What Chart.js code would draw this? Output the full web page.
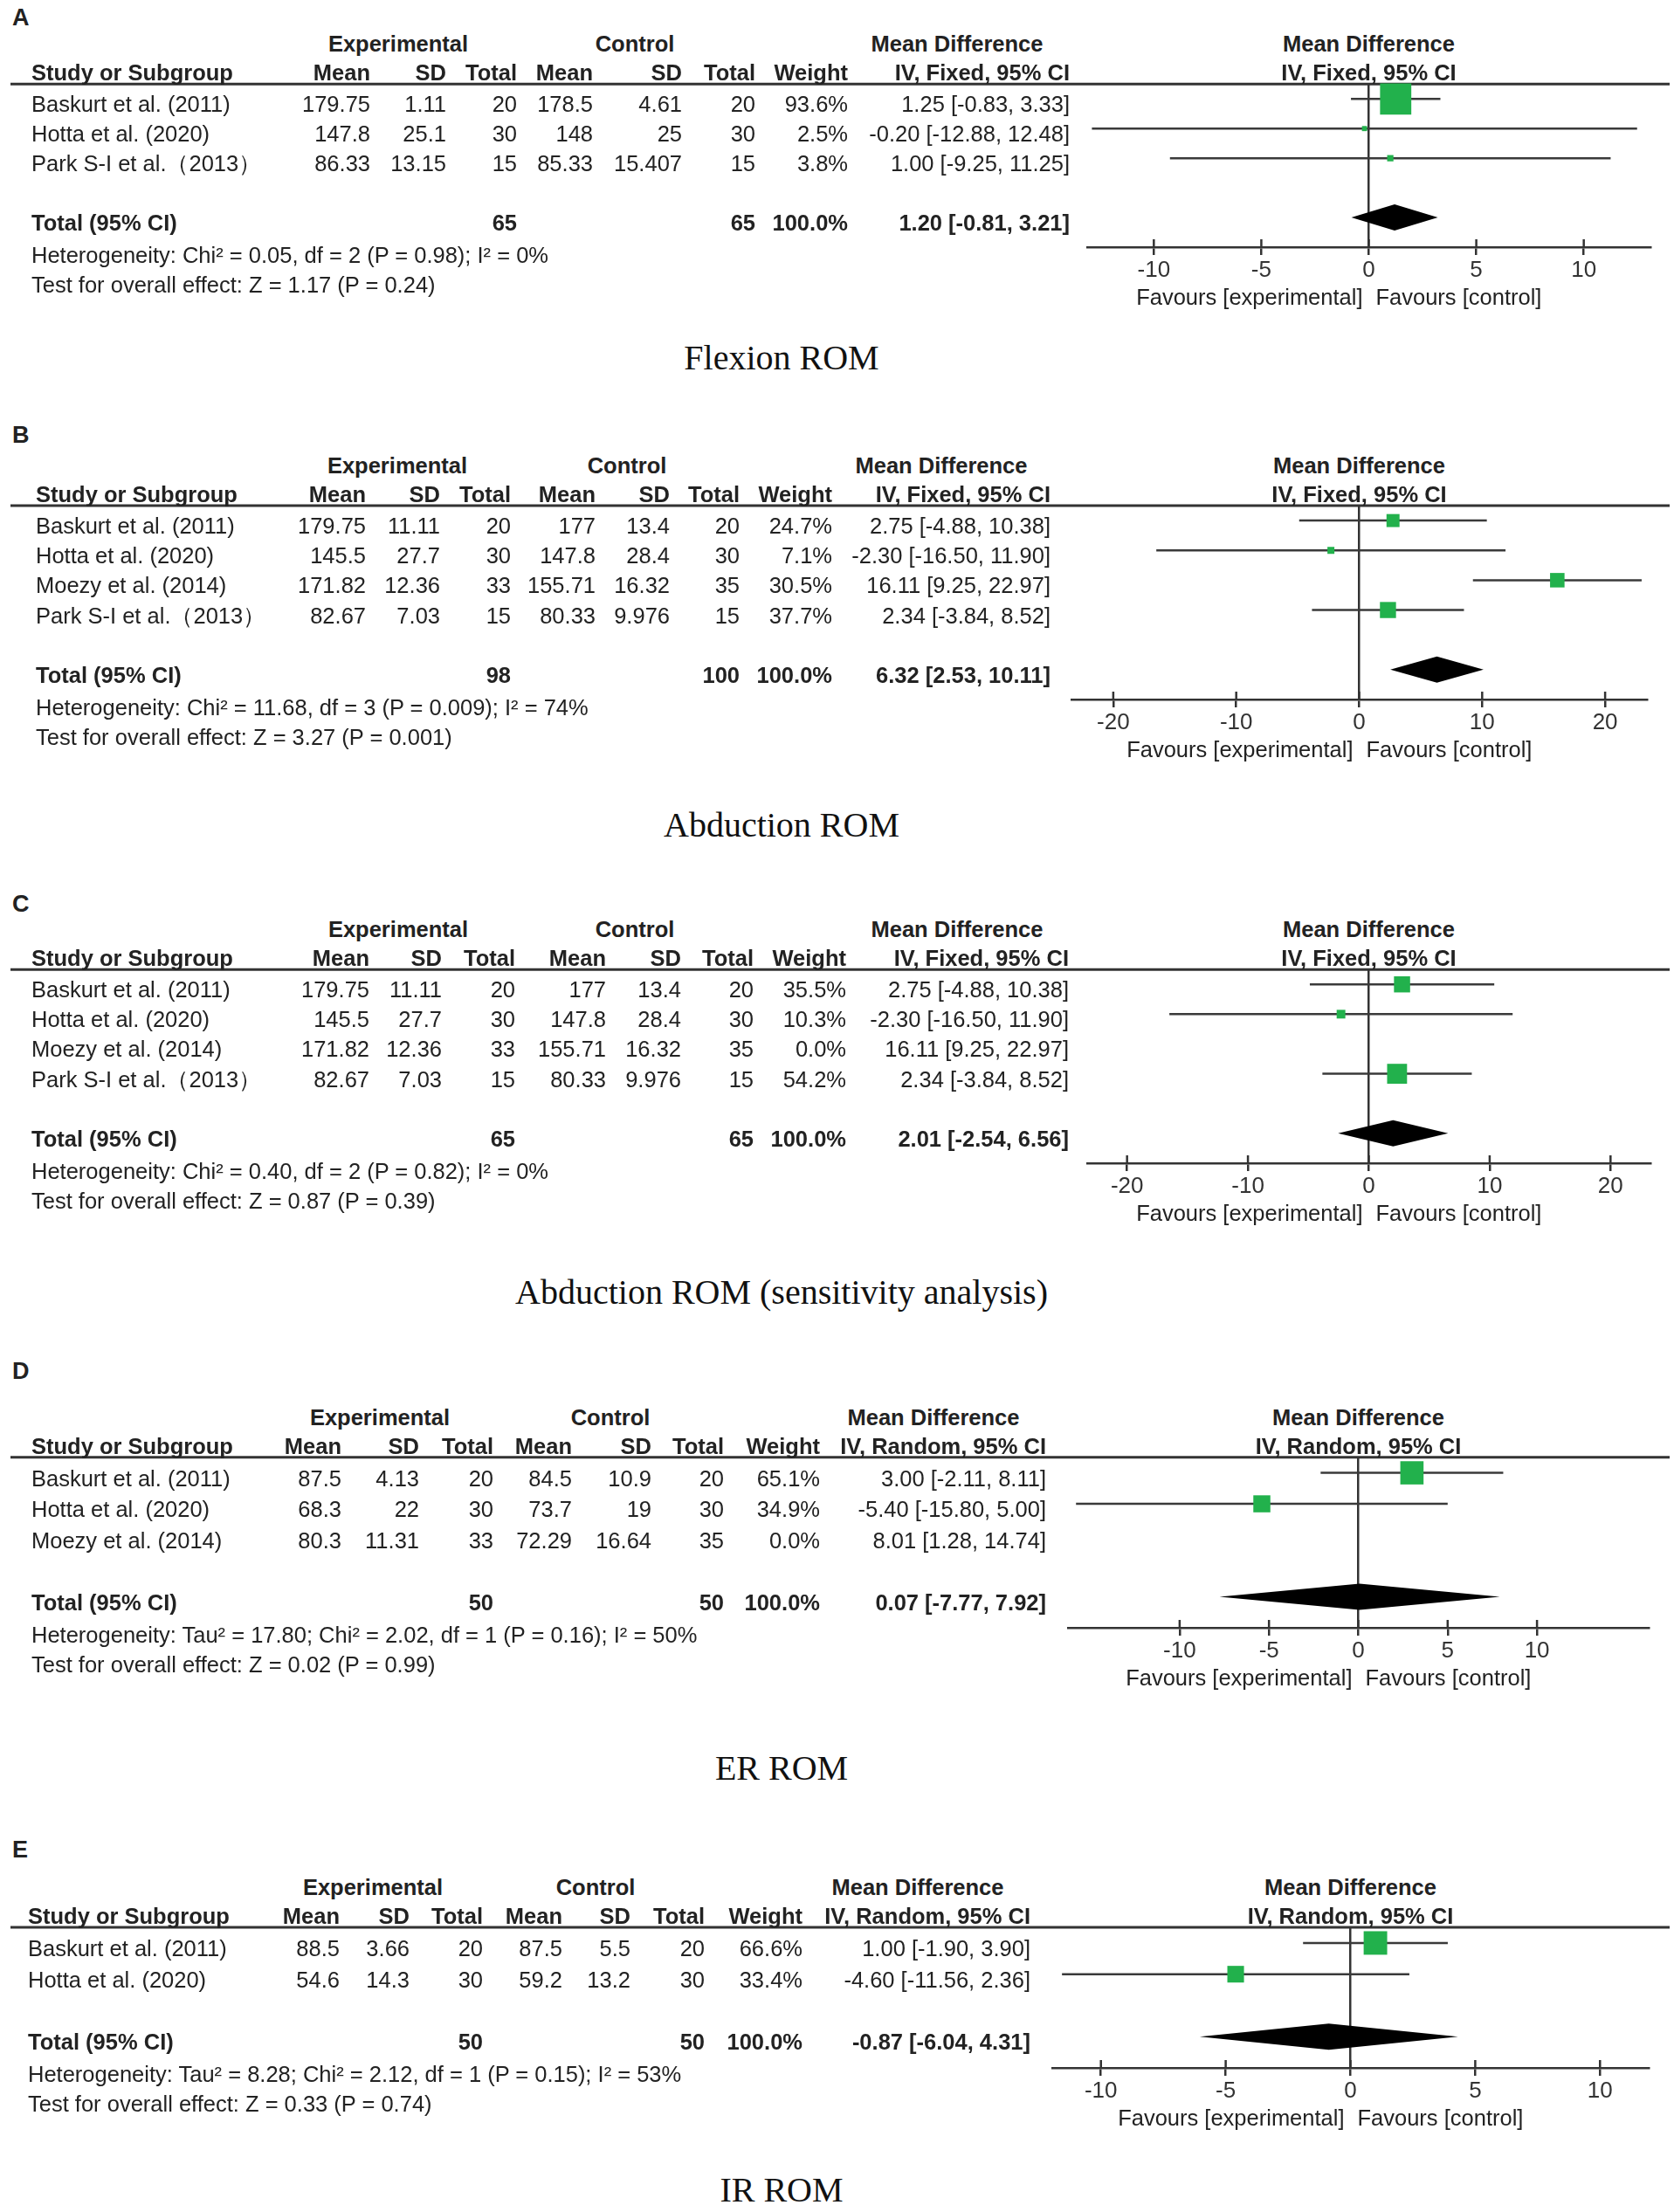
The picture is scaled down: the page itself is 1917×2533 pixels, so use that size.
<!DOCTYPE html>
<html>
<head>
<meta charset="utf-8">
<script src="https://cdn.jsdelivr.net/npm/chart.js@4.4.1/dist/chart.umd.min.js"></script>
<style>
body { margin: 0; background: #fff; }
#page { position: relative; width: 1917px; height: 2533px; overflow: hidden; font-family: "Liberation Sans", Arial, sans-serif; color: #222; }
.t { position: absolute; font-size: 25.5px; line-height: 30px; height: 30px; margin-top: -15px; white-space: nowrap; }
.b { font-weight: bold; }
.letter { position: absolute; left: 14px; font-size: 27px; font-weight: bold; line-height: 30px; margin-top: -15px; }
.caption { position: absolute; font-family: "Liberation Serif", "Times New Roman", serif; font-size: 40px; line-height: 46px; transform: translate(-50%, -50%); white-space: nowrap; color: #111; }
canvas { position: absolute; left: 0; }
</style>
</head>
<body>
<div id="page"></div>
<script>
// ---- A: Flexion ROM ----
const studiesA = ["Baskurt et al. (2011)", "Hotta et al. (2020)", "Park S-I et al.（2013）"];
const expMeanA = [179.75, 147.8, 86.33];
const expSdA = [1.11, 25.1, 13.15];
const expNA = [20, 30, 15];
const ctlMeanA = [178.5, 148, 85.33];
const ctlSdA = [4.61, 25, 15.407];
const ctlNA = [20, 30, 15];
const weightA = [93.6, 2.5, 3.8];
const mdA = [1.25, -0.20, 1.00];
const lowerA = [-0.83, -12.88, -9.25];
const upperA = [3.33, 12.48, 11.25];
const pooledA = [1.20, -0.81, 3.21];
const sumNA = [65, 65];
const ticksA = [-10, -5, 0, 5, 10];
const hetA = "Heterogeneity: Chi² = 0.05, df = 2 (P = 0.98); I² = 0%";
const effectA = "Test for overall effect: Z = 1.17 (P = 0.24)";

// ---- B: Abduction ROM ----
const studiesB = ["Baskurt et al. (2011)", "Hotta et al. (2020)", "Moezy et al. (2014)", "Park S-I et al.（2013）"];
const expMeanB = [179.75, 145.5, 171.82, 82.67];
const expSdB = [11.11, 27.7, 12.36, 7.03];
const expNB = [20, 30, 33, 15];
const ctlMeanB = [177, 147.8, 155.71, 80.33];
const ctlSdB = [13.4, 28.4, 16.32, 9.976];
const ctlNB = [20, 30, 35, 15];
const weightB = [24.7, 7.1, 30.5, 37.7];
const mdB = [2.75, -2.30, 16.11, 2.34];
const lowerB = [-4.88, -16.50, 9.25, -3.84];
const upperB = [10.38, 11.90, 22.97, 8.52];
const pooledB = [6.32, 2.53, 10.11];
const sumNB = [98, 100];
const ticksB = [-20, -10, 0, 10, 20];
const hetB = "Heterogeneity: Chi² = 11.68, df = 3 (P = 0.009); I² = 74%";
const effectB = "Test for overall effect: Z = 3.27 (P = 0.001)";

// ---- C: Abduction ROM (sensitivity analysis) ----
const studiesC = ["Baskurt et al. (2011)", "Hotta et al. (2020)", "Moezy et al. (2014)", "Park S-I et al.（2013）"];
const expMeanC = [179.75, 145.5, 171.82, 82.67];
const expSdC = [11.11, 27.7, 12.36, 7.03];
const expNC = [20, 30, 33, 15];
const ctlMeanC = [177, 147.8, 155.71, 80.33];
const ctlSdC = [13.4, 28.4, 16.32, 9.976];
const ctlNC = [20, 30, 35, 15];
const weightC = [35.5, 10.3, 0.0, 54.2];
const mdC = [2.75, -2.30, 16.11, 2.34];
const lowerC = [-4.88, -16.50, 9.25, -3.84];
const upperC = [10.38, 11.90, 22.97, 8.52];
const pooledC = [2.01, -2.54, 6.56];
const sumNC = [65, 65];
const ticksC = [-20, -10, 0, 10, 20];
const hetC = "Heterogeneity: Chi² = 0.40, df = 2 (P = 0.82); I² = 0%";
const effectC = "Test for overall effect: Z = 0.87 (P = 0.39)";

// ---- D: ER ROM ----
const studiesD = ["Baskurt et al. (2011)", "Hotta et al. (2020)", "Moezy et al. (2014)"];
const expMeanD = [87.5, 68.3, 80.3];
const expSdD = [4.13, 22, 11.31];
const expND = [20, 30, 33];
const ctlMeanD = [84.5, 73.7, 72.29];
const ctlSdD = [10.9, 19, 16.64];
const ctlND = [20, 30, 35];
const weightD = [65.1, 34.9, 0.0];
const mdD = [3.00, -5.40, 8.01];
const lowerD = [-2.11, -15.80, 1.28];
const upperD = [8.11, 5.00, 14.74];
const pooledD = [0.07, -7.77, 7.92];
const sumND = [50, 50];
const ticksD = [-10, -5, 0, 5, 10];
const hetD = "Heterogeneity: Tau² = 17.80; Chi² = 2.02, df = 1 (P = 0.16); I² = 50%";
const effectD = "Test for overall effect: Z = 0.02 (P = 0.99)";

// ---- E: IR ROM ----
const studiesE = ["Baskurt et al. (2011)", "Hotta et al. (2020)"];
const expMeanE = [88.5, 54.6];
const expSdE = [3.66, 14.3];
const expNE = [20, 30];
const ctlMeanE = [87.5, 59.2];
const ctlSdE = [5.5, 13.2];
const ctlNE = [20, 30];
const weightE = [66.6, 33.4];
const mdE = [1.00, -4.60];
const lowerE = [-1.90, -11.56];
const upperE = [3.90, 2.36];
const pooledE = [-0.87, -6.04, 4.31];
const sumNE = [50, 50];
const ticksE = [-10, -5, 0, 5, 10];
const hetE = "Heterogeneity: Tau² = 8.28; Chi² = 2.12, df = 1 (P = 0.15); I² = 53%";
const effectE = "Test for overall effect: Z = 0.33 (P = 0.74)";

const FIXED = "IV, Fixed, 95% CI";
const RANDOM = "IV, Random, 95% CI";

const panels = [
  { letter: "A", caption: "Flexion ROM", method: FIXED,
    studies: studiesA, cols: [expMeanA, expSdA, expNA, ctlMeanA, ctlSdA, ctlNA], weight: weightA,
    md: mdA, lower: lowerA, upper: upperA, pooled: pooledA, sumN: sumNA, ticks: ticksA, het: hetA, effect: effectA,
    lay: { letterY: 20, lineY: 96, axisY: 283, plotL: 1245, plotR: 1890, range: 13.1, boxK: 3.7, captionY: 410,
           studyX: 36, colX: [424, 511, 592, 679, 781, 865, 971, 1225], groupX: [456, 727, 1096] } },
  { letter: "B", caption: "Abduction ROM", method: FIXED,
    studies: studiesB, cols: [expMeanB, expSdB, expNB, ctlMeanB, ctlSdB, ctlNB], weight: weightB,
    md: mdB, lower: lowerB, upper: upperB, pooled: pooledB, sumN: sumNB, ticks: ticksB, het: hetB, effect: effectB,
    lay: { letterY: 498, lineY: 579, axisY: 801, plotL: 1227, plotR: 1886, range: 23.4, boxK: 3.0, captionY: 945,
           studyX: 41, colX: [419, 504, 585, 682, 767, 847, 953, 1203], groupX: [455, 718, 1078] } },
  { letter: "C", caption: "Abduction ROM (sensitivity analysis)", method: FIXED,
    studies: studiesC, cols: [expMeanC, expSdC, expNC, ctlMeanC, ctlSdC, ctlNC], weight: weightC,
    md: mdC, lower: lowerC, upper: upperC, pooled: pooledC, sumN: sumNC, ticks: ticksC, het: hetC, effect: effectC,
    lay: { letterY: 1035, lineY: 1110, axisY: 1332, plotL: 1245, plotR: 1890, range: 23.3, boxK: 3.1, captionY: 1480,
           studyX: 36, colX: [423, 506, 590, 694, 780, 863, 969, 1224], groupX: [456, 727, 1096] } },
  { letter: "D", caption: "ER ROM", method: RANDOM,
    studies: studiesD, cols: [expMeanD, expSdD, expND, ctlMeanD, ctlSdD, ctlND], weight: weightD,
    md: mdD, lower: lowerD, upper: upperD, pooled: pooledD, sumN: sumND, ticks: ticksD, het: hetD, effect: effectD,
    lay: { letterY: 1570, lineY: 1669, axisY: 1864, plotL: 1223, plotR: 1888, range: 16.25, boxK: 3.3, captionY: 2025,
           studyX: 36, colX: [391, 480, 565, 655, 746, 829, 939, 1198], groupX: [435, 699, 1069] } },
  { letter: "E", caption: "IR ROM", method: RANDOM,
    studies: studiesE, cols: [expMeanE, expSdE, expNE, ctlMeanE, ctlSdE, ctlNE], weight: weightE,
    md: mdE, lower: lowerE, upper: upperE, pooled: pooledE, sumN: sumNE, ticks: ticksE, het: hetE, effect: effectE,
    lay: { letterY: 2118, lineY: 2207, axisY: 2368, plotL: 1205, plotR: 1888, range: 11.95, boxK: 3.3, captionY: 2508,
           studyX: 32, colX: [389, 469, 553, 644, 722, 807, 919, 1180], groupX: [427, 682, 1051] } }
];

const page = document.getElementById("page");
const W = 1917;
const LINE = "#333";

function text(str, x, y, align, bold) {
  const d = document.createElement("div");
  d.className = "t" + (bold ? " b" : "");
  d.textContent = str;
  d.style.top = y + "px";
  if (align === "right") d.style.right = (W - x) + "px";
  else if (align === "center") { d.style.left = x + "px"; d.style.transform = "translateX(-50%)"; }
  else d.style.left = x + "px";
  page.appendChild(d);
}

const fmtCI = (m, lo, hi) => m.toFixed(2) + " [" + lo.toFixed(2) + ", " + hi.toFixed(2) + "]";

// header rule, tick stubs and pooled diamond
const forestPlugin = {
  id: "forest",
  beforeDatasetsDraw(chart) {
    const ctx = chart.ctx, top = chart.chartArea.top;
    ctx.save();
    ctx.strokeStyle = LINE; ctx.lineWidth = 3;
    ctx.beginPath(); ctx.moveTo(12, top); ctx.lineTo(1912, top); ctx.stroke();
    ctx.restore();
  },
  afterDatasetsDraw(chart, args, opts) {
    const ctx = chart.ctx, xs = chart.scales.x, ys = chart.scales.y;
    const [est, lo, hi] = opts.pooled;
    const cy = ys.getPixelForValue(opts.row);
    ctx.save();
    ctx.fillStyle = "#000";
    ctx.beginPath();
    ctx.moveTo(xs.getPixelForValue(lo), cy);
    ctx.lineTo(xs.getPixelForValue(est), cy - 15);
    ctx.lineTo(xs.getPixelForValue(hi), cy);
    ctx.lineTo(xs.getPixelForValue(est), cy + 15);
    ctx.closePath(); ctx.fill();
    const bottom = chart.chartArea.bottom;
    ctx.strokeStyle = LINE; ctx.lineWidth = 2.5;
    xs.ticks.forEach(t => {
      const px = xs.getPixelForValue(t.value);
      ctx.beginPath(); ctx.moveTo(px, bottom - 9); ctx.lineTo(px, bottom); ctx.stroke();
    });
    ctx.restore();
  }
};

panels.forEach(p => {
  const L = p.lay;
  const n = p.studies.length;
  const totalRow = n + 2;
  const axisH = 45;
  const padTop = 10;
  let canvasTop = L.lineY - padTop;
  let H = L.axisY - L.lineY + padTop + axisH;

  const cv = document.createElement("canvas");
  cv.width = W;
  cv.height = H;
  cv.style.width = W + "px";
  cv.style.height = H + "px";
  cv.style.top = canvasTop + "px";
  page.appendChild(cv);

  const shown = p.studies.map((s, i) => i).filter(i => p.weight[i] > 0);
  const whiskers = shown.map(i => ({
    type: "line",
    data: [{ x: p.lower[i], y: i + 1 }, { x: p.upper[i], y: i + 1 }],
    showLine: true, borderColor: "#3a3a3a", borderWidth: 2.5, pointRadius: 0, order: 2
  }));
  const boxes = {
    data: shown.map(i => ({ x: p.md[i], y: i + 1 })),
    pointStyle: "rect",
    pointRadius: shown.map(i => L.boxK * Math.sqrt(p.weight[i]) / Math.SQRT2),
    backgroundColor: "#22b14c", borderColor: "#22b14c", borderWidth: 0,
    order: 0, clip: false
  };

  const chart = new Chart(cv.getContext("2d"), {
    type: "scatter",
    data: { datasets: [boxes].concat(whiskers) },
    options: {
      responsive: false,
      maintainAspectRatio: false,
      animation: false,
      devicePixelRatio: 1,
      layout: { padding: { top: padTop, bottom: 0, left: L.plotL, right: W - L.plotR } },
      plugins: {
        legend: { display: false },
        tooltip: { enabled: false },
        forest: { pooled: p.pooled, row: totalRow }
      },
      scales: {
        x: {
          type: "linear", min: -L.range, max: L.range,
          afterBuildTicks: s => { s.ticks = p.ticks.map(v => ({ value: v })); },
          afterFit: s => { s.height = axisH; },
          border: { display: true, color: LINE, width: 2.5 },
          grid: {
            drawOnChartArea: true, drawTicks: true, tickLength: 9, tickColor: LINE, tickWidth: 2.5,
            lineWidth: 2.5, color: c => (c.tick && c.tick.value === 0 ? LINE : "rgba(0,0,0,0)")
          },
          ticks: { autoSkip: false, maxRotation: 0, padding: 2, color: "#333",
                   font: { family: "Liberation Sans", size: 26 } }
        },
        y: { type: "linear", display: false, reverse: true, min: 0.5, max: n + 3 }
      }
    },
    plugins: [forestPlugin]
  });

  // Chart.js may reserve extra room; adjust the canvas so the rule sits on lineY and the axis on axisY
  for (let k = 0; k < 3; k++) {
    const dTop = Math.round(chart.chartArea.top - (L.lineY - canvasTop));
    const dBot = Math.round((L.axisY - canvasTop) - chart.chartArea.bottom);
    if (dTop === 0 && dBot === 0) break;
    canvasTop -= dTop;
    H += dTop + dBot;
    cv.style.top = canvasTop + "px";
    chart.resize(W, H);
  }

  const xs = chart.scales.x, ys = chart.scales.y;
  const rowY = r => canvasTop + ys.getPixelForValue(r) + 6;
  const lineY = canvasTop + chart.chartArea.top;
  const axisY = canvasTop + chart.chartArea.bottom;
  const zeroX = xs.getPixelForValue(0);
  const cx = L.colX;

  const lt = document.createElement("div");
  lt.className = "letter"; lt.textContent = p.letter; lt.style.top = L.letterY + "px";
  page.appendChild(lt);
  const cap = document.createElement("div");
  cap.className = "caption"; cap.textContent = p.caption;
  cap.style.left = "895px"; cap.style.top = L.captionY + "px";
  page.appendChild(cap);

  const gy = lineY - 46, hy = lineY - 13;
  text("Experimental", L.groupX[0], gy, "center", true);
  text("Control", L.groupX[1], gy, "center", true);
  text("Mean Difference", L.groupX[2], gy, "center", true);
  text("Mean Difference", zeroX, gy, "center", true);
  text("Study or Subgroup", L.studyX, hy, "left", true);
  ["Mean", "SD", "Total", "Mean", "SD", "Total", "Weight", p.method].forEach((h, k) => text(h, cx[k], hy, "right", true));
  text(p.method, zeroX, hy, "center", true);

  p.studies.forEach((s, i) => {
    const y = rowY(i + 1);
    text(s, L.studyX, y, "left", false);
    p.cols.forEach((col, k) => text(String(col[i]), cx[k], y, "right", false));
    text(p.weight[i].toFixed(1) + "%", cx[6], y, "right", false);
    text(fmtCI(p.md[i], p.lower[i], p.upper[i]), cx[7], y, "right", false);
  });

  const ty = rowY(totalRow);
  text("Total (95% CI)", L.studyX, ty, "left", true);
  text(String(p.sumN[0]), cx[2], ty, "right", true);
  text(String(p.sumN[1]), cx[5], ty, "right", true);
  text("100.0%", cx[6], ty, "right", true);
  text(fmtCI(p.pooled[0], p.pooled[1], p.pooled[2]), cx[7], ty, "right", true);
  text(p.het, L.studyX, ty + 37, "left", false);
  text(p.effect, L.studyX, ty + 71, "left", false);

  text("Favours [experimental]", zeroX - 7, axisY + 57, "right", false);
  text("Favours [control]", zeroX + 8, axisY + 57, "left", false);
});
</script>
</body>
</html>
